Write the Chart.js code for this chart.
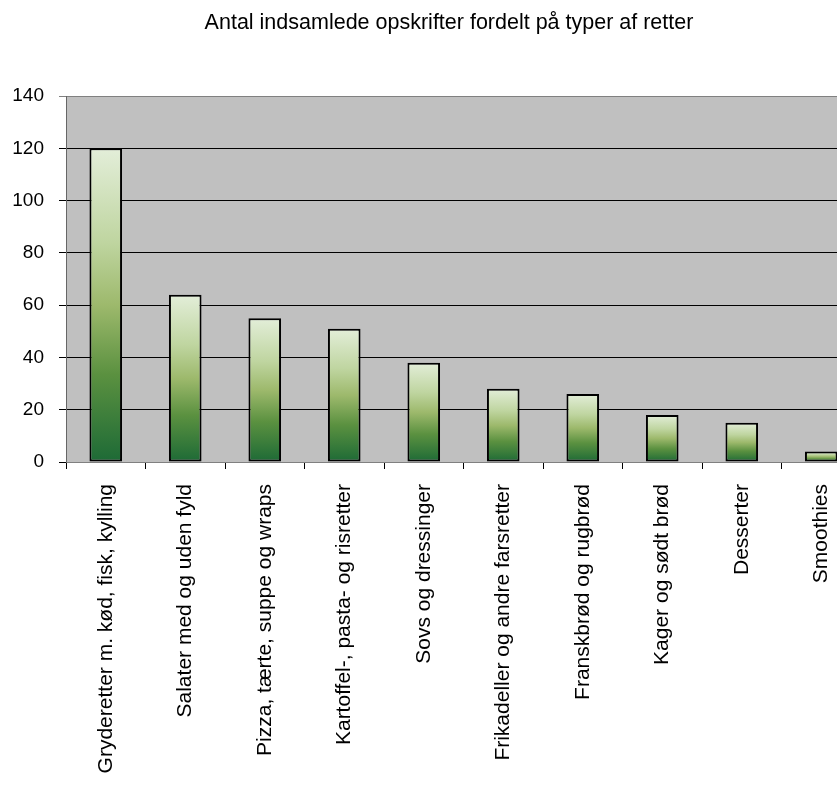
<!DOCTYPE html>
<html>
<head>
<meta charset="utf-8">
<script src="https://cdn.jsdelivr.net/npm/chart.js@4/dist/chart.umd.min.js"></script>
<style>
  html, body { margin: 0; padding: 0; background: #fff; overflow: hidden; }
  #wrap { width: 898px; height: 785px; }
</style>
</head>
<body>
<div id="wrap"><canvas id="retterChart" width="898" height="785"></canvas></div>
<script>
// Data
const categories = [
  'Gryderetter m. kød, fisk, kylling',
  'Salater med og uden fyld',
  'Pizza, tærte, suppe og wraps',
  'Kartoffel-, pasta- og risretter',
  'Sovs og dressinger',
  'Frikadeller og andre farsretter',
  'Franskbrød og rugbrød',
  'Kager og sødt brød',
  'Desserter',
  'Smoothies'
];
const antal = [120, 64, 55, 51, 38, 28, 26, 18, 15, 4];
const yTicks = [0, 20, 40, 60, 80, 100, 120, 140];

const chartTitle = 'Antal indsamlede opskrifter fordelt på typer af retter';
const fontFamily = '"Liberation Sans", Arial, sans-serif';

// grey plot area
const plotBackground = {
  id: 'plotBackground',
  beforeDraw(chart) {
    const { ctx, chartArea } = chart;
    if (!chartArea) return;
    ctx.save();
    ctx.fillStyle = '#c0c0c0';
    ctx.fillRect(chartArea.left, chartArea.top, chartArea.right - chartArea.left, chartArea.bottom - chartArea.top);
    ctx.restore();
  }
};

// the title sits a bit right of the canvas centre in the original, so draw it here
const titleText = {
  id: 'titleText',
  afterDraw(chart) {
    const ctx = chart.ctx;
    ctx.save();
    ctx.fillStyle = '#000';
    ctx.font = '21.5px ' + fontFamily;
    ctx.textAlign = 'center';
    ctx.textBaseline = 'alphabetic';
    ctx.fillText(chartTitle, 449, 29);
    ctx.restore();
  }
};

// one gradient per bar, light at the top and dark green at the base
function barGradient(context) {
  const chart = context.chart;
  const area = chart.chartArea;
  if (!area || context.parsed === undefined) return '#5e9440';
  const yScale = chart.scales.y;
  const top = yScale.getPixelForValue(context.parsed.y);
  const bottom = yScale.getPixelForValue(0);
  if (!isFinite(top) || !isFinite(bottom) || bottom - top < 1) return '#5e9440';
  const g = chart.ctx.createLinearGradient(0, top, 0, bottom);
  g.addColorStop(0, '#e3eed9');
  g.addColorStop(0.3, '#bfd5a0');
  g.addColorStop(0.5, '#9db96c');
  g.addColorStop(0.72, '#5b9140');
  g.addColorStop(1, '#1d6a36');
  return g;
}

new Chart(document.getElementById('retterChart'), {
  type: 'bar',
  data: {
    labels: categories,
    datasets: [{
      label: 'Antal',
      data: antal,
      backgroundColor: barGradient,
      borderColor: '#000',
      borderWidth: 2,
      borderSkipped: false,
      categoryPercentage: 1,
      barPercentage: 0.41
    }]
  },
  options: {
    responsive: false,
    animation: false,
    layout: { padding: { left: 0, right: 37, top: 96, bottom: 0 } },
    plugins: {
      legend: { display: false },
      tooltip: { enabled: false },
      title: { display: false }
    },
    scales: {
      x: {
        offset: true,
        afterFit(scale) { scale.height = 323; },
        grid: {
          offset: true,
          drawOnChartArea: false,
          color: '#000',
          tickLength: 7
        },
        border: { color: '#808080', width: 1 },
        ticks: {
          color: '#000',
          font: { family: fontFamily, size: 21 },
          minRotation: 90,
          maxRotation: 90,
          autoSkip: false,
          padding: 15
        }
      },
      y: {
        min: 0,
        max: 140,
        afterFit(scale) { scale.width = 66; },
        afterBuildTicks(scale) { scale.ticks = yTicks.map(v => ({ value: v })); },
        grid: {
          color: (ctx) => (ctx.tick && ctx.tick.value === 140 ? '#808080' : '#000'),
          tickLength: 7
        },
        border: { color: '#666', width: 1 },
        ticks: {
          color: '#000',
          font: { family: fontFamily, size: 19 },
          padding: 15
        }
      }
    }
  },
  plugins: [plotBackground, titleText]
});
</script>
</body>
</html>
